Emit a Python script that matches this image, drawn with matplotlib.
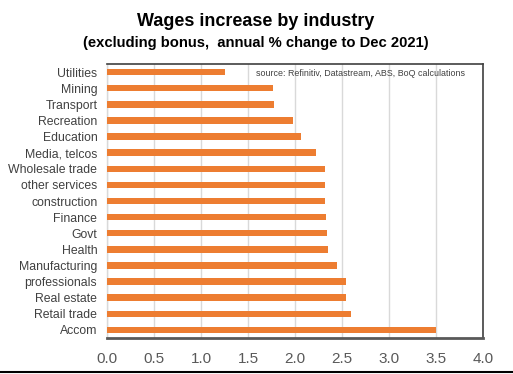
import matplotlib
matplotlib.use("Agg")
import matplotlib.pyplot as plt
from matplotlib.lines import Line2D

plt.rcParams['font.family'] = ['Liberation Sans', 'DejaVu Sans']

industries = ["Utilities", "Mining", "Transport", "Recreation", "Education",
              "Media, telcos", "Wholesale trade", "other services", "construction",
              "Finance", "Govt", "Health", "Manufacturing", "professionals",
              "Real estate", "Retail trade", "Accom"]
values = [1.25, 1.77, 1.78, 1.98, 2.06, 2.22, 2.32, 2.32, 2.32,
          2.33, 2.34, 2.35, 2.45, 2.54, 2.54, 2.60, 3.50]
xticks = [0.0, 0.5, 1.0, 1.5, 2.0, 2.5, 3.0, 3.5, 4.0]

fig = plt.figure(figsize=(5.13, 3.74), dpi=100)
ax = fig.add_axes([107/513, 36/374, 376/513, 274/374])

ypos = list(range(len(industries)))
ax.barh(ypos, values, height=0.4, color="#ED7D31", zorder=3)
ax.set_ylim(len(industries) - 0.5, -0.5)
ax.set_xlim(0, 4.0)
ax.set_yticks(ypos)
ax.set_yticklabels(industries, fontsize=8.8, color="#404040")
ax.set_xticks(xticks)
ax.set_xticklabels([f"{t:.1f}" for t in xticks], fontsize=11, color="#595959")
ax.tick_params(axis='both', length=0)
ax.tick_params(axis='y', pad=7)
ax.tick_params(axis='x', pad=10)
ax.grid(axis='x', color="#D9D9D9", linewidth=1, zorder=0)

for side in ['top', 'right']:
    ax.spines[side].set_color("#404040")
    ax.spines[side].set_linewidth(1.2)
ax.spines['bottom'].set_color("#595959")
ax.spines['bottom'].set_linewidth(2)
ax.spines['left'].set_color("#D9D9D9")
ax.spines['left'].set_linewidth(1)

ax.text(0.397, 0.965, "source: Refinitiv, Datastream, ABS, BoQ calculations",
        transform=ax.transAxes, fontsize=6.4, color="#404040", ha='left', va='center')

fig.text(256/513, 1 - 21/374, "Wages increase by industry", fontsize=13,
         fontweight='bold', ha='center', va='center', color="black")
fig.text(256/513, 1 - 43.5/374, "(excluding bonus,  annual % change to Dec 2021)", fontsize=10.6,
         fontweight='bold', ha='center', va='center', color="black")

fig.add_artist(Line2D([0, 1], [1 - 372/374, 1 - 372/374], transform=fig.transFigure,
                      color="black", linewidth=1.5))

fig.savefig("out.png", dpi=100)
